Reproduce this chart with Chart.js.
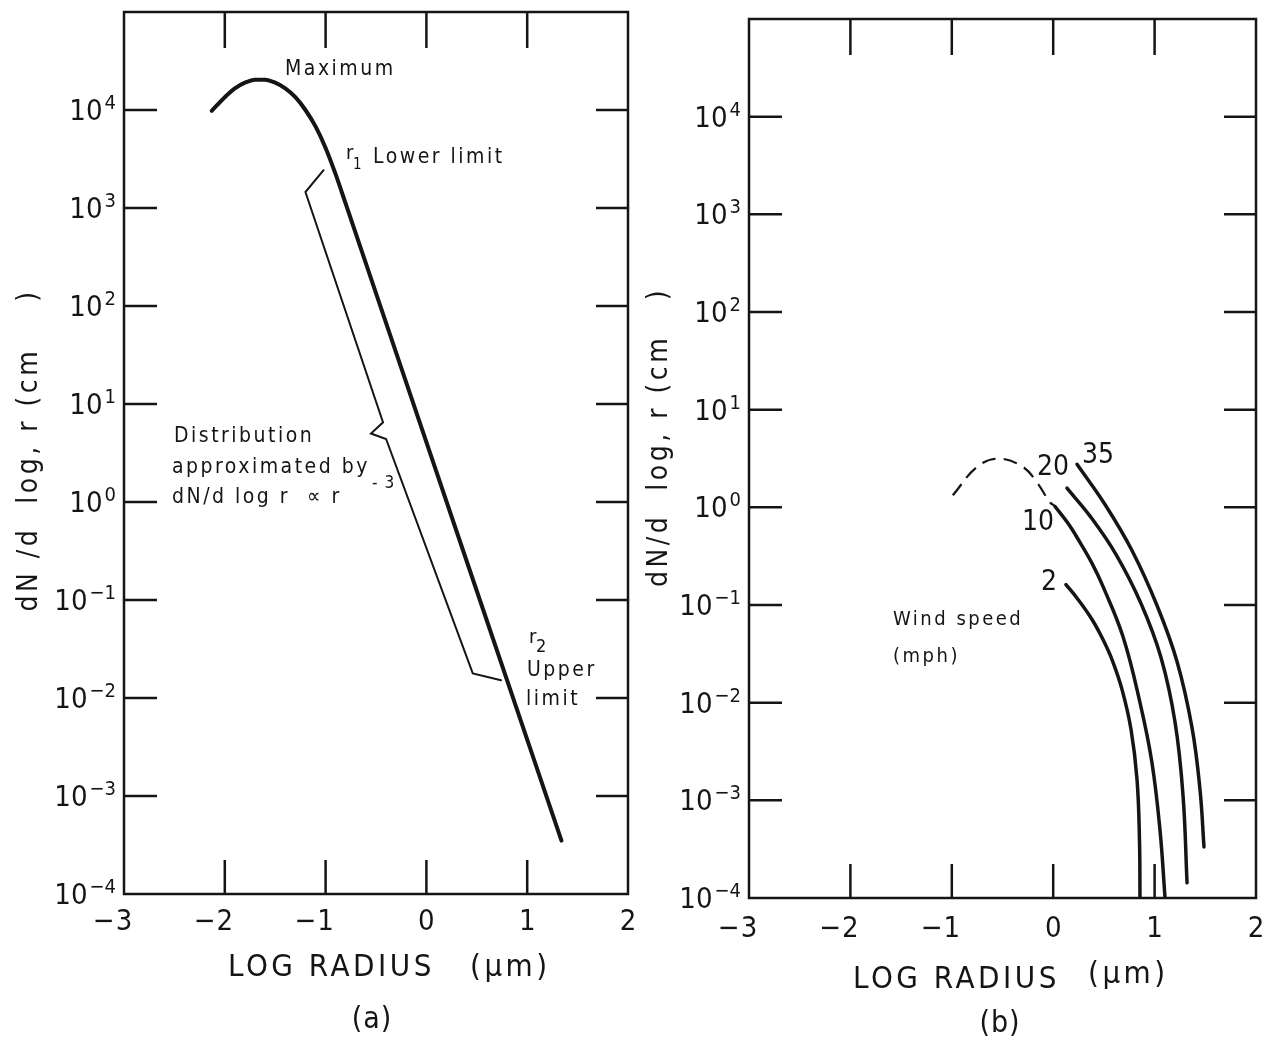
<!DOCTYPE html>
<html>
<head>
<meta charset="utf-8">
<script src="https://cdn.jsdelivr.net/npm/chart.js@4.4.0/dist/chart.umd.min.js"></script>
<style>
  body { margin: 0; background: #fff; }
  #wrap { position: relative; width: 1270px; height: 1044px; }
  canvas { position: absolute; top: 0; }
  #chartA { left: 0; }
  #chartB { left: 640px; }
</style>
</head>
<body>
<div id="wrap">
  <canvas id="chartA" width="640" height="1044"></canvas>
  <canvas id="chartB" width="630" height="1044"></canvas>
</div>
<script>
// (a) size distribution, log radius (um) vs dN/d log r
const radiusA = [-2.13, -2.0, -1.9, -1.8, -1.7, -1.6, -1.5, -1.4, -1.3, -1.2, -1.1, -1.0, -0.9, -0.8, 0.3, 1.34];
const countA  = [9.8e3, 1.35e4, 1.66e4, 1.9e4, 2.04e4, 2.04e4, 1.9e4, 1.66e4, 1.35e4, 1.0e4, 6.8e3, 4.1e3, 2.2e3, 1.1e3, 0.5, 3.5e-4];

// bracket r1..r2 (r^-3 part)
const bracketR = [-1.02, -1.20, -0.43, -0.55, -0.40, 0.46, 0.74];
const bracketN = [2430, 1455, 6.5, 5.0, 4.4, 0.0178, 0.0152];

// (b) wind speed curves
const dashedR = [-0.99, -0.75, -0.54, -0.30, -0.16, -0.03, 0.02];
const dashedN = [1.33, 2.6, 3.15, 2.6, 1.8, 1.12, 1.03];
const wind2R  = [0.126, 0.245, 0.383, 0.491, 0.58, 0.679, 0.768, 0.827, 0.851, 0.856];
const wind2N  = [0.162, 0.114, 0.071, 0.0443, 0.0276, 0.0136, 0.00528, 0.00162, 0.00039, 0.0001];
const wind10R = [0.018, 0.146, 0.264, 0.383, 0.491, 0.688, 0.856, 0.974, 1.053, 1.103];
const wind10N = [1.02, 0.686, 0.438, 0.267, 0.155, 0.0475, 0.01, 0.00243, 0.000498, 0.0001];
const wind20R = [0.136, 0.373, 0.619, 0.866, 1.063, 1.201, 1.28, 1.32];
const wind20N = [1.57, 0.789, 0.33, 0.1035, 0.029, 0.00638, 0.00114, 0.000143];
const wind35R = [0.235, 0.511, 0.777, 1.024, 1.221, 1.369, 1.448, 1.487];
const wind35N = [2.76, 1.07, 0.362, 0.0989, 0.0264, 0.00555, 0.00128, 0.000333];

const yExponents = [4, 3, 2, 1, 0, -1, -2, -3, -4];
const xTickValues = [-3, -2, -1, 0, 1, 2];

const INK = '#151515';
const FONT = '"DejaVu Sans Condensed", "DejaVu Sans", sans-serif';

function pts(xs, ys) {
  return xs.map((x, i) => ({x: x, y: ys[i]}));
}

function setFont(ctx, size, spacing) {
  ctx.font = size + 'px ' + FONT;
  ctx.letterSpacing = (spacing || 0) + 'px';
}

function text(ctx, s, x, y, size, spacing, align) {
  setFont(ctx, size, spacing);
  ctx.textAlign = align || 'left';
  ctx.textBaseline = 'middle';
  ctx.fillText(s, x, y);
}

function minusStr(n) {
  return n < 0 ? '\u2212' + (-n) : String(n);
}

// frame, inward ticks, tick labels, texts
function framePlugin(cfg) {
  return {
    id: 'frame',
    afterDatasetsDraw(chart) {
      const ctx = chart.ctx;
      const a = chart.chartArea;
      const xs = chart.scales.x, ys = chart.scales.y;
      ctx.save();
      ctx.strokeStyle = INK;
      ctx.fillStyle = INK;
      ctx.lineWidth = 2.5;
      ctx.strokeRect(a.left, a.top, a.right - a.left, a.bottom - a.top);

      // y ticks both sides
      yExponents.forEach(e => {
        if (e === -4) return;
        const y = ys.getPixelForValue(Math.pow(10, e));
        ctx.beginPath();
        ctx.moveTo(a.left, y); ctx.lineTo(a.left + 33, y);
        ctx.moveTo(a.right, y); ctx.lineTo(a.right - 32, y);
        ctx.stroke();
      });
      // x ticks top and bottom
      xTickValues.forEach(v => {
        if (v === -3 || v === 2) return;
        const x = xs.getPixelForValue(v);
        ctx.beginPath();
        ctx.moveTo(x, a.top); ctx.lineTo(x, a.top + 36);
        ctx.moveTo(x, a.bottom); ctx.lineTo(x, a.bottom - 34);
        ctx.stroke();
      });

      // y tick labels 10^e
      yExponents.forEach(e => {
        const y = ys.getPixelForValue(Math.pow(10, e));
        const sup = minusStr(e);
        setFont(ctx, 20, 0);
        const ws = ctx.measureText(sup).width;
        const xr = a.left - 8;
        ctx.textAlign = 'left';
        ctx.textBaseline = 'alphabetic';
        ctx.fillText(sup, xr - ws, y - 1);
        setFont(ctx, 29, 0);
        const wb = ctx.measureText('10').width;
        ctx.fillText('10', xr - ws - 2 - wb, y + 10);
      });

      // x tick labels, digit centred on tick
      xTickValues.forEach(v => {
        const x = xs.getPixelForValue(v);
        const yb = a.bottom + cfg.xLabelGap;
        setFont(ctx, 29, 0);
        ctx.textBaseline = 'alphabetic';
        ctx.textAlign = 'center';
        const d = String(Math.abs(v));
        ctx.fillText(d, x, yb);
        if (v < 0) {
          const w = ctx.measureText(d).width;
          ctx.textAlign = 'right';
          ctx.fillText('\u2212', x - w / 2 - 1, yb);
        }
      });

      // axis titles
      ctx.save();
      ctx.translate(cfg.yTitle.x, cfg.yTitle.y);
      ctx.rotate(-Math.PI / 2);
      text(ctx, cfg.yTitle.s, 0, 0, 28, 3.5, 'center');
      ctx.restore();
      text(ctx, 'LOG RADIUS', cfg.xTitle.x, cfg.xTitle.y, 31, 3.5, 'left');
      text(ctx, '(\u03bcm)', cfg.unit.x, cfg.unit.y, 31, 3.5, 'left');
      text(ctx, cfg.tag.s, cfg.tag.x, cfg.tag.y, 30, 1, 'center');

      cfg.notes.forEach(n => text(ctx, n.s, n.x, n.y, n.size, n.sp, 'left'));
      ctx.restore();
    }
  };
}

function makeChart(id, datasets, padding, cfg) {
  return new Chart(document.getElementById(id), {
    type: 'line',
    data: {datasets: datasets},
    options: {
      responsive: false,
      animation: false,
      devicePixelRatio: 1,
      layout: {padding: padding},
      scales: {
        x: {type: 'linear', min: -3, max: 2, display: false},
        y: {type: 'logarithmic', min: 1e-4, max: 1e5, display: false}
      },
      elements: {point: {radius: 0}},
      plugins: {legend: {display: false}, tooltip: {enabled: false}}
    },
    plugins: [framePlugin(cfg)]
  });
}

function curve(xs, ys, width, extra) {
  return Object.assign({
    data: pts(xs, ys),
    borderColor: INK,
    borderWidth: width,
    fill: false,
    cubicInterpolationMode: 'monotone',
    borderCapStyle: 'round'
  }, extra || {});
}

const smooth = {cubicInterpolationMode: 'default', tension: 0.4};

makeChart('chartA', [
  curve(radiusA, countA, 4),
  curve(bracketR, bracketN, 2, {cubicInterpolationMode: 'default', tension: 0, borderJoinStyle: 'miter'})
], {left: 124, right: 12, top: 12, bottom: 150}, {
  xLabelGap: 36,
  yTitle: {s: 'dN /d  log, r (cm    )', x: 30, y: 450},
  xTitle: {x: 228, y: 968},
  unit: {x: 470, y: 968},
  tag: {s: '(a)', x: 372, y: 1020},
  notes: [
    {s: 'Maximum', x: 285, y: 70, size: 21, sp: 2.5},
    {s: 'r', x: 346, y: 154, size: 20, sp: 0},
    {s: '1', x: 353, y: 165, size: 15, sp: 0},
    {s: 'Lower limit', x: 373, y: 158, size: 21, sp: 2.5},
    {s: 'Distribution', x: 174, y: 437, size: 21, sp: 2.5},
    {s: 'approximated by', x: 172, y: 468, size: 21, sp: 2.5},
    {s: 'dN/d log r  \u221d r', x: 172, y: 498, size: 21, sp: 2.5},
    {s: '- 3', x: 372, y: 484, size: 17, sp: 1},
    {s: 'r', x: 529, y: 638, size: 20, sp: 0},
    {s: '2', x: 536, y: 647, size: 18, sp: 0},
    {s: 'Upper', x: 527, y: 671, size: 21, sp: 2.5},
    {s: 'limit', x: 526, y: 700, size: 21, sp: 2.5}
  ]
});

makeChart('chartB', [
  curve(dashedR, dashedN, 2.2, Object.assign({borderDash: [14, 8], borderCapStyle: 'butt'}, smooth)),
  curve(wind2R, wind2N, 3.5, smooth),
  curve(wind10R, wind10N, 3.5, smooth),
  curve(wind20R, wind20N, 3.5, smooth),
  curve(wind35R, wind35N, 3.5, smooth)
], {left: 109, right: 14, top: 19, bottom: 146}, {
  xLabelGap: 39,
  yTitle: {s: 'dN/d  log, r (cm   )', x: 20, y: 437},
  xTitle: {x: 213, y: 980},
  unit: {x: 448, y: 975},
  tag: {s: '(b)', x: 360, y: 1024},
  notes: [
    {s: 'Wind speed', x: 253, y: 620, size: 20, sp: 2.5},
    {s: '(mph)', x: 253, y: 657, size: 20, sp: 2.5},
    {s: '20', x: 397, y: 468, size: 28, sp: 0},
    {s: '35', x: 442, y: 456, size: 28, sp: 0},
    {s: '10', x: 382, y: 523, size: 28, sp: 0},
    {s: '2', x: 401, y: 583, size: 28, sp: 0}
  ]
});
</script>
</body>
</html>
